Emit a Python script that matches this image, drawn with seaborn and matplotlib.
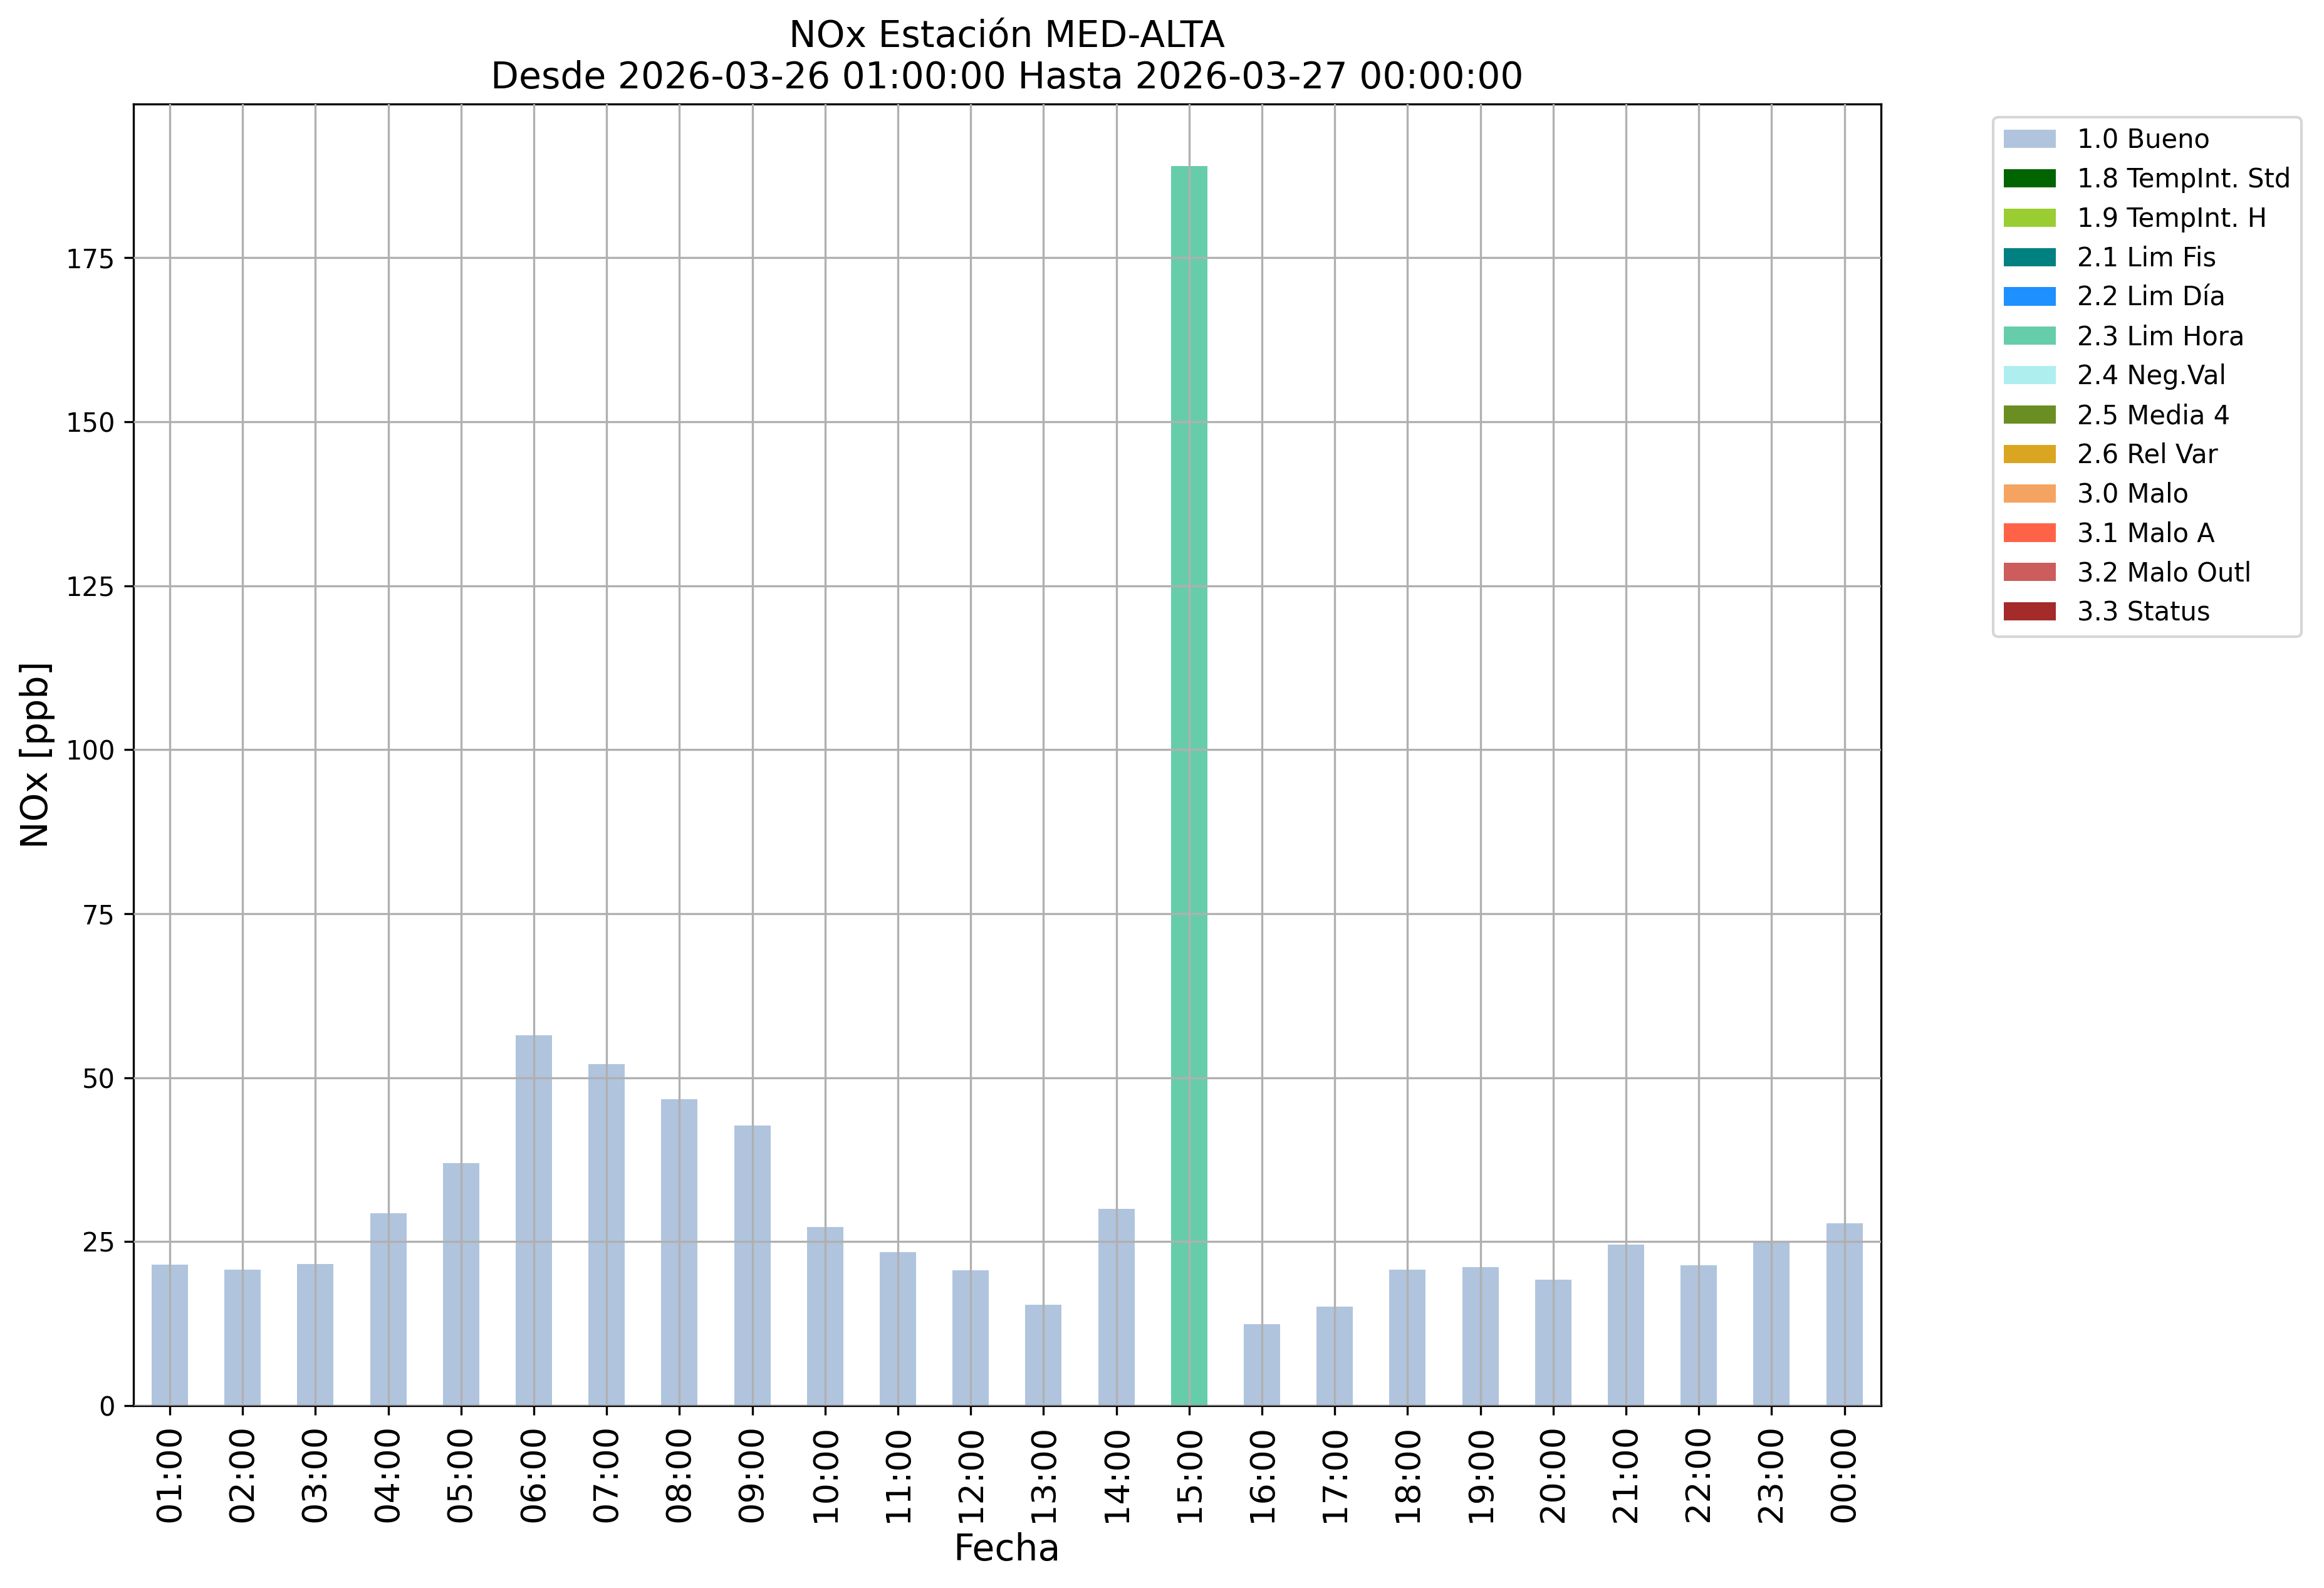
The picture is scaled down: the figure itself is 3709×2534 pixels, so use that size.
import matplotlib
matplotlib.use("Agg")
import matplotlib.pyplot as plt
from matplotlib.patches import Patch
import seaborn as sns
import pandas as pd

hours = ["01:00", "02:00", "03:00", "04:00", "05:00", "06:00", "07:00", "08:00",
         "09:00", "10:00", "11:00", "12:00", "13:00", "14:00", "15:00", "16:00",
         "17:00", "18:00", "19:00", "20:00", "21:00", "22:00", "23:00", "00:00"]
nox = [21.5, 20.7, 21.6, 29.3, 37.0, 56.5, 52.1, 46.7, 42.7, 27.2, 23.4, 20.6,
       15.4, 30.0, 189.0, 12.4, 15.1, 20.7, 21.1, 19.2, 24.6, 21.4, 24.9, 27.8]
flags = ["1.0 Bueno"] * 14 + ["2.3 Lim Hora"] + ["1.0 Bueno"] * 9

flag_labels = ["1.0 Bueno", "1.8 TempInt. Std", "1.9 TempInt. H", "2.1 Lim Fis",
               "2.2 Lim Día", "2.3 Lim Hora", "2.4 Neg.Val", "2.5 Media 4",
               "2.6 Rel Var", "3.0 Malo", "3.1 Malo A", "3.2 Malo Outl", "3.3 Status"]
flag_colors = ["lightsteelblue", "darkgreen", "yellowgreen", "teal", "dodgerblue",
               "mediumaquamarine", "paleturquoise", "olivedrab", "goldenrod",
               "sandybrown", "tomato", "indianred", "brown"]

df = pd.DataFrame({"hora": hours, "nox": nox, "flag": flags})
palette = dict(zip(flag_labels, flag_colors))

fig = plt.figure(figsize=(3709 / 300, 2534 / 300), dpi=300)
ax = fig.add_axes([0.0574, 0.1148, 0.7519, 0.8198])

sns.barplot(data=df, x="hora", y="nox", hue="flag", hue_order=flag_labels,
            palette=palette, dodge=False, width=0.5, saturation=1,
            order=hours, ax=ax, legend=False)

ax.set_xlim(-0.5, len(hours) - 0.5)
ax.set_ylim(0, max(nox) * 1.05)
ax.grid(True, color="#b0b0b0", linewidth=0.8)
ax.set_axisbelow(False)
for s in ax.spines.values():
    s.set_color("black")
    s.set_linewidth(0.8)

ax.tick_params(axis="x", labelsize=13, rotation=90)
ax.tick_params(axis="y", labelsize=10)
ax.set_xlabel("Fecha", fontsize=14)
ax.set_ylabel("NOx [ppb]", fontsize=14)
ax.set_title("NOx Estación MED-ALTA\nDesde 2026-03-26 01:00:00 Hasta 2026-03-27 00:00:00",
             fontsize=14)

handles = [Patch(facecolor=c, edgecolor="none", label=l)
           for l, c in zip(flag_labels, flag_colors)]
ax.legend(handles=handles, loc="upper left", bbox_to_anchor=(1.057, 1.0),
          fontsize=10, frameon=True)

fig.savefig("out.png", dpi=300)
